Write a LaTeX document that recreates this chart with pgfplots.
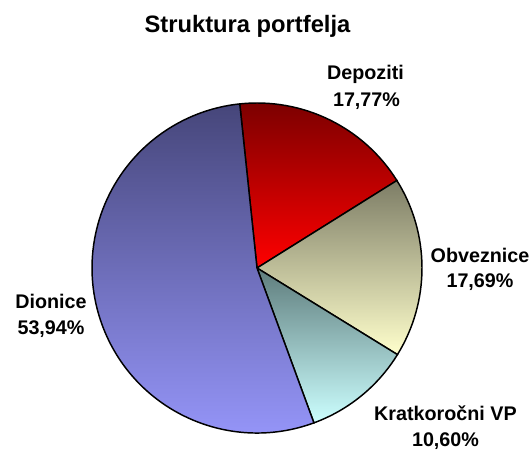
\documentclass[border=0pt]{standalone}
\usepackage{pgfplots}
\pgfplotsset{compat=1.18}
\usepackage{pgfplotstable}
\usepackage{fontspec}
\setmainfont{Liberation Sans}

\definecolor{depTop}{HTML}{780000}
\definecolor{depBot}{HTML}{FF0000}
\definecolor{obvTop}{HTML}{7D7D66}
\definecolor{obvBot}{HTML}{FFFFCC}
\definecolor{krTop}{HTML}{5E7C7C}
\definecolor{krBot}{HTML}{CCFFFF}
\definecolor{dioTop}{HTML}{46467A}
\definecolor{dioBot}{HTML}{9999FF}

\tikzset{lbl/.style={anchor=base,font=\fontsize{14.8}{17}\selectfont\bfseries},
  slice/.style={overlay,draw=black,line width=1.1pt}}

% share of each category (percent), clockwise from the top
\pgfplotstableread[col sep=comma]{
name,value
Depoziti,17.77
Obveznice,17.69
Kratkoročni VP,10.60
Dionice,53.94
}\piedata

\pgfplotstablegetelem{0}{value}\of\piedata \let\vA\pgfplotsretval
\pgfplotstablegetelem{1}{value}\of\piedata \let\vB\pgfplotsretval
\pgfplotstablegetelem{2}{value}\of\piedata \let\vC\pgfplotsretval
\pgfplotstablegetelem{3}{value}\of\piedata \let\vD\pgfplotsretval
\pgfmathsetmacro{\aA}{96}
\pgfmathsetmacro{\aB}{\aA-3.6*\vA}
\pgfmathsetmacro{\aC}{\aB-3.6*\vB}
\pgfmathsetmacro{\aD}{\aC-3.6*\vC}
\pgfmathsetmacro{\aE}{\aD-3.6*\vD}
\def\R{123.75pt}
\newcommand{\pct}[1]{\pgfmathprintnumber[fixed,fixed zerofill,precision=2,use comma,assume math mode=true]{#1}\%}

\begin{document}
\begin{tikzpicture}
\begin{axis}[
  scale only axis, width=399pt, height=338.25pt,
  xmin=0, xmax=532, ymin=0, ymax=451,
  hide axis, clip=false, xtick=\empty, ytick=\empty,
]
\path (axis cs:0,0) rectangle (axis cs:532,451);
\path[slice,top color=depTop,bottom color=depBot]
  (axis cs:257,183) -- ++(\aA:\R) arc[start angle=\aA,end angle=\aB,radius=\R] -- cycle;
\path[slice,top color=obvTop,bottom color=obvBot]
  (axis cs:257,183) -- ++(\aB:\R) arc[start angle=\aB,end angle=\aC,radius=\R] -- cycle;
\path[slice,top color=krTop,bottom color=krBot]
  (axis cs:257,183) -- ++(\aC:\R) arc[start angle=\aC,end angle=\aD,radius=\R] -- cycle;
\path[slice,top color=dioTop,bottom color=dioBot]
  (axis cs:257,183) -- ++(\aD:\R) arc[start angle=\aD,end angle=\aE,radius=\R] -- cycle;

\node[anchor=base,font=\fontsize{17.8}{20}\selectfont\bfseries] at (axis cs:247.5,418) {Struktura portfelja};

\node[lbl] at (axis cs:365.5,371.5) {Depoziti};
\node[lbl] at (axis cs:366.5,344.3) {\pct{\vA}};
\node[lbl] at (axis cs:480,188.7) {Obveznice};
\node[lbl] at (axis cs:480,163.5) {\pct{\vB}};
\node[lbl] at (axis cs:445.5,30.3) {Kratkoročni VP};
\node[lbl] at (axis cs:445.5,4.3) {\pct{\vC}};
\node[lbl] at (axis cs:51,142.7) {Dionice};
\node[lbl] at (axis cs:51,116.7) {\pct{\vD}};
\end{axis}
\pgfresetboundingbox
\path[use as bounding box] (current axis.south west) rectangle (current axis.north east);
\end{tikzpicture}
\end{document}
